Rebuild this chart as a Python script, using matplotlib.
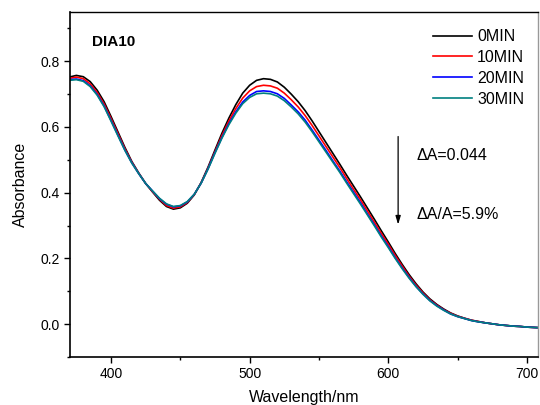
import matplotlib
matplotlib.use("Agg")
import matplotlib.pyplot as plt
from matplotlib.ticker import MultipleLocator

plt.rcParams['font.family'] = ['Liberation Sans', 'DejaVu Sans']

wavelength = list(range(370, 715, 5))

a_0min = [0.752, 0.757, 0.753, 0.738, 0.712, 0.677, 0.632, 0.585, 0.538, 0.495,
          0.460, 0.428, 0.402, 0.377, 0.358, 0.350, 0.354, 0.368, 0.393, 0.431,
          0.478, 0.530, 0.581, 0.627, 0.668, 0.703, 0.727, 0.742, 0.747, 0.745,
          0.737, 0.721, 0.700, 0.677, 0.650, 0.619, 0.586, 0.553, 0.520, 0.487,
          0.453, 0.420, 0.387, 0.353, 0.319, 0.284, 0.250, 0.215, 0.182, 0.151,
          0.123, 0.098, 0.077, 0.060, 0.046, 0.034, 0.025, 0.018, 0.012, 0.008,
          0.004, 0.001, -0.002, -0.004, -0.006, -0.007, -0.009, -0.010, -0.011]

a_10min = [0.748, 0.752, 0.747, 0.731, 0.705, 0.670, 0.626, 0.580, 0.534, 0.493,
           0.459, 0.428, 0.403, 0.380, 0.361, 0.353, 0.357, 0.370, 0.394, 0.430,
           0.475, 0.525, 0.574, 0.618, 0.656, 0.688, 0.710, 0.723, 0.727, 0.725,
           0.718, 0.703, 0.683, 0.661, 0.635, 0.605, 0.573, 0.541, 0.509, 0.477,
           0.443, 0.410, 0.378, 0.344, 0.310, 0.276, 0.243, 0.209, 0.177, 0.146,
           0.119, 0.095, 0.074, 0.058, 0.044, 0.033, 0.024, 0.018, 0.012, 0.008,
           0.004, 0.001, -0.002, -0.004, -0.006, -0.007, -0.009, -0.010, -0.011]

a_20min = [0.744, 0.746, 0.741, 0.725, 0.699, 0.664, 0.620, 0.575, 0.530, 0.491,
           0.458, 0.428, 0.405, 0.382, 0.365, 0.357, 0.360, 0.372, 0.395, 0.429,
           0.473, 0.522, 0.568, 0.610, 0.646, 0.676, 0.696, 0.708, 0.710, 0.708,
           0.701, 0.687, 0.667, 0.646, 0.621, 0.591, 0.560, 0.529, 0.497, 0.466,
           0.433, 0.401, 0.369, 0.335, 0.302, 0.268, 0.236, 0.202, 0.171, 0.142,
           0.115, 0.092, 0.072, 0.056, 0.043, 0.031, 0.023, 0.017, 0.011, 0.007,
           0.004, 0.001, -0.002, -0.004, -0.006, -0.007, -0.009, -0.010, -0.011]

a_30min = [0.742, 0.744, 0.739, 0.723, 0.697, 0.662, 0.618, 0.573, 0.529, 0.490,
           0.458, 0.428, 0.405, 0.383, 0.366, 0.358, 0.361, 0.373, 0.395, 0.429,
           0.472, 0.520, 0.566, 0.607, 0.642, 0.671, 0.690, 0.701, 0.703, 0.701,
           0.694, 0.680, 0.661, 0.640, 0.615, 0.586, 0.555, 0.524, 0.493, 0.462,
           0.429, 0.397, 0.365, 0.332, 0.299, 0.265, 0.233, 0.200, 0.169, 0.140,
           0.114, 0.091, 0.071, 0.055, 0.042, 0.031, 0.023, 0.017, 0.011, 0.007,
           0.004, 0.001, -0.002, -0.004, -0.006, -0.007, -0.009, -0.010, -0.011]

series_labels = ['0MIN', '10MIN', '20MIN', '30MIN']
series_values = [a_0min, a_10min, a_20min, a_30min]
series_colors = ['#000000', '#FF0000', '#0000FF', '#008080']

sample_name = 'DIA10'
delta_text = '\u0394A=0.044'
ratio_text = '\u0394A/A=5.9%'

fig = plt.figure(figsize=(5.4, 4.05), dpi=100)
ax = fig.add_axes([0.1296, 0.1185, 0.8667, 0.8519])

for lab, vals, col in zip(series_labels, series_values, series_colors):
    ax.plot(wavelength, vals, color=col, lw=1.2, label=lab)

ax.set_xlim(370.4, 708)
ax.set_ylim(-0.1, 0.95)
ax.xaxis.set_major_locator(MultipleLocator(100))
ax.xaxis.set_minor_locator(MultipleLocator(50))
ax.yaxis.set_major_locator(MultipleLocator(0.2))
ax.yaxis.set_minor_locator(MultipleLocator(0.1))
ax.yaxis.set_major_formatter(matplotlib.ticker.FormatStrFormatter('%.1f'))

ax.tick_params(which='major', direction='out', length=4.5, width=1, labelsize=10, pad=3)
ax.tick_params(which='minor', direction='out', length=2.5, width=1)

for s in ['left', 'bottom']:
    ax.spines[s].set_linewidth(1.2)
ax.spines['top'].set_linewidth(1.0)
ax.spines['right'].set_color('#999999')
ax.spines['right'].set_linewidth(1.0)

ax.set_xlabel('Wavelength/nm', fontsize=11.5, labelpad=6)
ax.set_ylabel('Absorbance', fontsize=11.5, labelpad=9)

ax.text(0.046, 0.913, sample_name, transform=ax.transAxes, fontsize=11,
        fontweight='bold', va='center', ha='left')

leg = ax.legend(loc='upper right', bbox_to_anchor=(0.991, 0.978), frameon=False,
                fontsize=11.5, handlelength=2.4, handletextpad=0.35,
                labelspacing=0.37, borderaxespad=0.2)

ax.annotate('', xy=(607.1, 0.303), xytext=(607.1, 0.571),
            arrowprops=dict(arrowstyle='-|>,head_length=0.5,head_width=0.15',
                            color='black', lw=0.9, shrinkA=0, shrinkB=0))
ax.text(620.6, 0.512, delta_text, fontsize=11.5, va='center', ha='left')
ax.text(620.6, 0.335, ratio_text, fontsize=11.5, va='center', ha='left')

fig.savefig('out.png', dpi=100)
